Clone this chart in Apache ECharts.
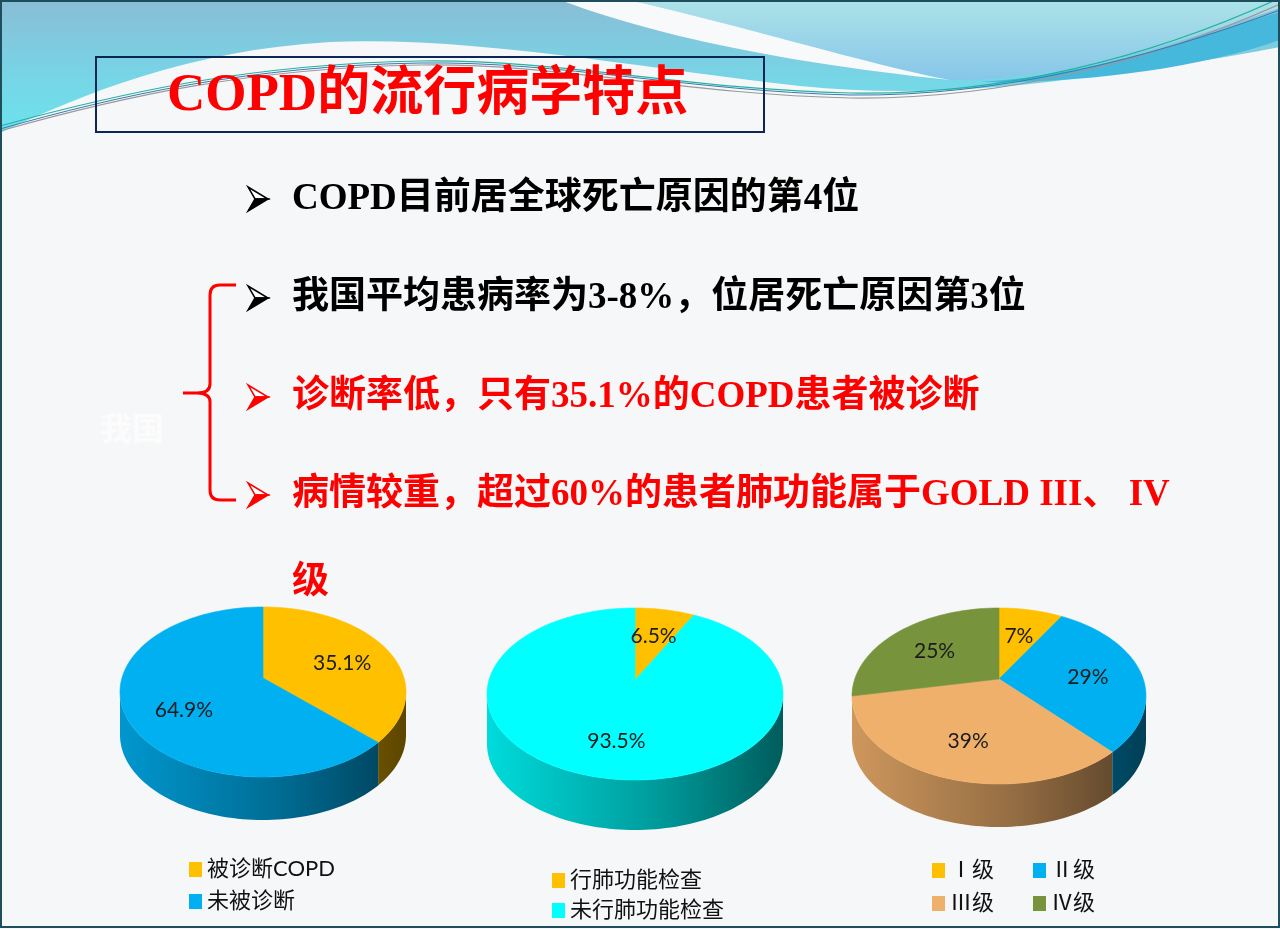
<!DOCTYPE html>
<html>
<head>
<meta charset="utf-8">
<script src="https://cdn.jsdelivr.net/npm/echarts@6/dist/echarts.min.js"></script>
<style>
  html, body { margin: 0; padding: 0; background: #f6f7f8; }
  #slide { width: 1280px; height: 929px; }
</style>
</head>
<body>
<div id="slide"></div>
<script>
// values
const diagNames = ["被诊断COPD", "未被诊断"]
const diagValues = [35.1, 64.9]
const testNames = ["行肺功能检查", "未行肺功能检查"]
const testValues = [6.5, 93.5]
const goldNames = ["Ⅰ级", "Ⅱ级", "Ⅲ级", "Ⅳ级"]
const goldValues = [7, 29, 39, 25]

const titleText = "COPD的流行病学特点"
const bulletTexts = [
  "COPD目前居全球死亡原因的第4位",
  "我国平均患病率为3-8%，位居死亡原因第3位",
  "诊断率低，只有35.1%的COPD患者被诊断",
  "病情较重，超过60%的患者肺功能属于GOLD III、 IV",
]
const bulletWrap = "级"

const YELLOW = "#ffc000"
const BLUE = "#00b0f0"
const CYAN = "#00ffff"
const TAN = "#efb06c"
const OLIVE = "#77933c"

const shade = (hex, f) => {
  const n = parseInt(hex.slice(1), 16)
  const c = [(n >> 16) & 255, (n >> 8) & 255, n & 255].map(v => Math.round(v * f))
  return `rgb(${c.join(",")})`
}

const linear = (x, y, x2, y2, stops, global) => ({
  type: "linear", x, y, x2, y2, global: !!global,
  colorStops: stops.map(([offset, color]) => ({ offset, color })),
})

const labelFont = '21px Lato, "Noto Sans CJK SC", sans-serif'
const legendFont = '22px Lato, "Noto Sans CJK SC", sans-serif'

// a flattened "3d" pie drawn with a custom series
const pieSeries = (name, names, values, colors, geo) => {
  const total = values.reduce((s, v) => s + v, 0)
  const offsets = values.map((v, i) => values.slice(0, i).reduce((s, x) => s + x, 0))
  const apex = [geo.cx, geo.cy - geo.lift]
  const at = (deg, dy) => [
    geo.cx + geo.rx * Math.cos((deg * Math.PI) / 180),
    geo.cy + dy + geo.ry * Math.sin((deg * Math.PI) / 180),
  ]
  const arc = (from, to, dy) => {
    const n = Math.max(2, Math.ceil(Math.abs(to - from) / 2))
    const pts = []
    for (let k = 0; k <= n; k++) pts.push(at(from + ((to - from) * k) / n, dy))
    return pts
  }
  return {
    type: "custom",
    name,
    coordinateSystem: "none",
    silent: true,
    animation: false,
    z: 2,
    data: values.map((v, i) => ({ name: names[i], value: v })),
    renderItem: (params, api) => {
      const i = params.dataIndex
      const a0 = -90 + (offsets[i] / total) * 360
      const a1 = a0 + (api.value(0) / total) * 360
      const children = []
      // front wall, only the part facing us
      const s = Math.max(a0, 0)
      const e = Math.min(a1, 180)
      if (e > s) {
        children.push({
          type: "polygon",
          shape: { points: arc(s, e, 0).concat(arc(e, s, geo.depth)) },
          style: {
            fill: linear(geo.cx - geo.rx, 0, geo.cx + geo.rx, 0, [
              [0, shade(colors[i], 0.86)],
              [0.55, shade(colors[i], 0.62)],
              [1, shade(colors[i], 0.36)],
            ], true),
          },
        })
      }
      children.push({
        type: "polygon",
        shape: { points: [apex].concat(arc(a0, a1, 0)) },
        style: { fill: colors[i], stroke: colors[i], lineWidth: 0.6 },
      })
      const mid = at((a0 + a1) / 2, 0)
      children.push({
        type: "text",
        x: apex[0] + 0.62 * (mid[0] - apex[0]),
        y: apex[1] + 0.62 * (mid[1] - apex[1]),
        z2: 20,
        style: {
          text: api.value(0) + "%",
          fill: "#1c1c1c",
          font: labelFont,
          align: "center",
          verticalAlign: "middle",
        },
      })
      return { type: "group", children }
    },
  }
}

// slide decoration: waves, frame lines and the brace (paths need the custom series)
const decoPaths = [
  {
    type: "path",
    shape: {
      pathData:
        "M0,0 L1280,0 L1280,47 C1240,55 1180,65 1100,75 C1000,90 900,96 800,86 C650,70 480,36 330,42 C190,50 80,95 0,133 Z",
    },
    style: { fill: linear(0, 0, 0, 1, [[0, "#89bdd6"], [0.6, "#76d6e6"], [1, "#6ce2ee"]]) },
  },
  {
    type: "path",
    shape: { pathData: "M629,0 C740,25 870,65 950,80 C1060,82 1170,45 1280,8 L1280,0 Z" },
    style: { fill: linear(0, 0, 0, 1, [[0, "#ade2e8"], [1, "#86c6e8"]]) },
  },
  {
    type: "path",
    shape: { pathData: "M560,0 C640,30 760,60 950,80 C870,65 740,25 629,0 Z" },
    style: { fill: "#f7f9fb" },
  },
  {
    type: "path",
    shape: { pathData: "M980,82 C1100,75 1200,35 1280,12 L1280,40 C1200,68 1080,84 980,82 Z" },
    style: { fill: "#45b8dc" },
  },
  {
    type: "path",
    shape: { pathData: "M0,126 C120,93 250,64 420,61 C560,59 680,89 850,93 C1000,96 1150,58 1280,-2" },
    style: { fill: "none", stroke: "#22b39e", lineWidth: 1.2 },
  },
  {
    type: "path",
    shape: { pathData: "M0,131 C120,97 250,68 420,65 C560,63 680,94 850,98 C1000,100 1150,62 1280,4" },
    style: { fill: "none", stroke: "#9a9a9a", lineWidth: 1.2 },
  },
  {
    type: "path",
    shape: { pathData: "M0,129 C120,95 250,66 420,63 C560,61 690,91 850,95 C1000,97 1150,58 1280,10" },
    style: { fill: "none", stroke: "#3a78b4", lineWidth: 1 },
  },
  {
    type: "path",
    shape: {
      pathData:
        "M236,285 L220,285 Q210,285 210,295 L210,384 Q210,393 197,393 L183,393 M197,393 Q210,393 210,402 L210,490 Q210,500 220,500 L236,500",
    },
    style: { fill: "none", stroke: "#ff0000", lineWidth: 3 },
  },
]

const decoSeries = {
  type: "custom",
  name: "slide",
  coordinateSystem: "none",
  silent: true,
  animation: false,
  z: 1,
  data: [0],
  renderItem: () => ({ type: "group", children: decoPaths }),
}

const legendItems = (names, colors, spots) =>
  names.flatMap((n, i) => [
    {
      type: "rect",
      shape: { x: spots[i][0], y: spots[i][1] - 7, width: 13, height: 15 },
      style: { fill: colors[i] },
    },
    {
      type: "text",
      x: spots[i][0] + 18,
      y: spots[i][1],
      style: { text: n, fill: "#111", font: legendFont, verticalAlign: "middle" },
    },
  ])

// top-lighted arrowhead bullet
const arrowhead = (y, color) => [
  {
    type: "polygon",
    shape: { points: [[248, y - 12], [268, y], [255, y]] },
    style: { fill: "#ffffff", stroke: color, lineWidth: 1.5, lineJoin: "miter" },
  },
  {
    type: "polygon",
    shape: { points: [[255, y], [268, y], [248, y + 12]] },
    style: { fill: color, stroke: color, lineWidth: 1.5, lineJoin: "miter" },
  },
]

const bulletColors = ["#000", "#000", "#ff0000", "#ff0000"]
const bulletY = [199, 298, 397, 495]
const bulletFont = 'bold 37px "Liberation Serif", "Noto Sans CJK SC", serif'

const graphics = [
  // slide frame
  {
    type: "rect",
    shape: { x: 1, y: 1, width: 1278, height: 926 },
    style: { fill: "none", stroke: "#1e4d5c", lineWidth: 2 },
  },
  // title box
  {
    type: "rect",
    shape: { x: 96, y: 57, width: 668, height: 75 },
    style: { fill: "none", stroke: "#0c2656", lineWidth: 2 },
  },
  {
    type: "text",
    x: 167,
    y: 96,
    style: {
      text: titleText,
      fill: "#ff0000",
      font: 'bold 53px "Liberation Serif", "Noto Sans CJK SC", serif',
      verticalAlign: "middle",
    },
  },
  // ghost text left of the brace
  {
    type: "text",
    x: 100,
    y: 428,
    style: {
      text: "我国",
      fill: "#fcfcfc",
      font: 'bold 32px "Noto Sans CJK SC", sans-serif',
      verticalAlign: "middle",
    },
  },
  ...bulletTexts.flatMap((t, i) => [
    ...arrowhead(bulletY[i], bulletColors[i]),
    {
      type: "text",
      x: 292,
      y: bulletY[i],
      style: { text: t, fill: bulletColors[i], font: bulletFont, verticalAlign: "middle" },
    },
  ]),
  {
    type: "text",
    x: 292,
    y: 583,
    style: { text: bulletWrap, fill: "#ff0000", font: bulletFont, verticalAlign: "middle" },
  },
  // legends
  ...legendItems(diagNames, [YELLOW, BLUE], [[189, 869], [189, 901]]),
  ...legendItems(testNames, [YELLOW, CYAN], [[552, 880], [552, 910]]),
  ...legendItems(goldNames, [YELLOW, BLUE, TAN, OLIVE], [[932, 870], [1033, 870], [932, 903], [1033, 903]]),
].map(el => Object.assign({ z: 10 }, el))

const slide = echarts.init(document.getElementById("slide"))
slide.setOption({
  backgroundColor: "#f6f7f8",
  animation: false,
  graphic: { elements: graphics },
  series: [
    decoSeries,
    pieSeries("diagnosis", diagNames, diagValues, [YELLOW, BLUE],
      { cx: 263, cy: 692, rx: 143, ry: 85, depth: 43, lift: 14 }),
    pieSeries("lungtest", testNames, testValues, [YELLOW, CYAN],
      { cx: 635, cy: 694, rx: 148, ry: 86, depth: 50, lift: 14 }),
    pieSeries("gold", goldNames, goldValues, [YELLOW, BLUE, TAN, OLIVE],
      { cx: 999, cy: 696, rx: 147, ry: 88, depth: 43, lift: 17 }),
  ],
})
window.addEventListener("resize", () => slide.resize())
</script>
</body>
</html>
